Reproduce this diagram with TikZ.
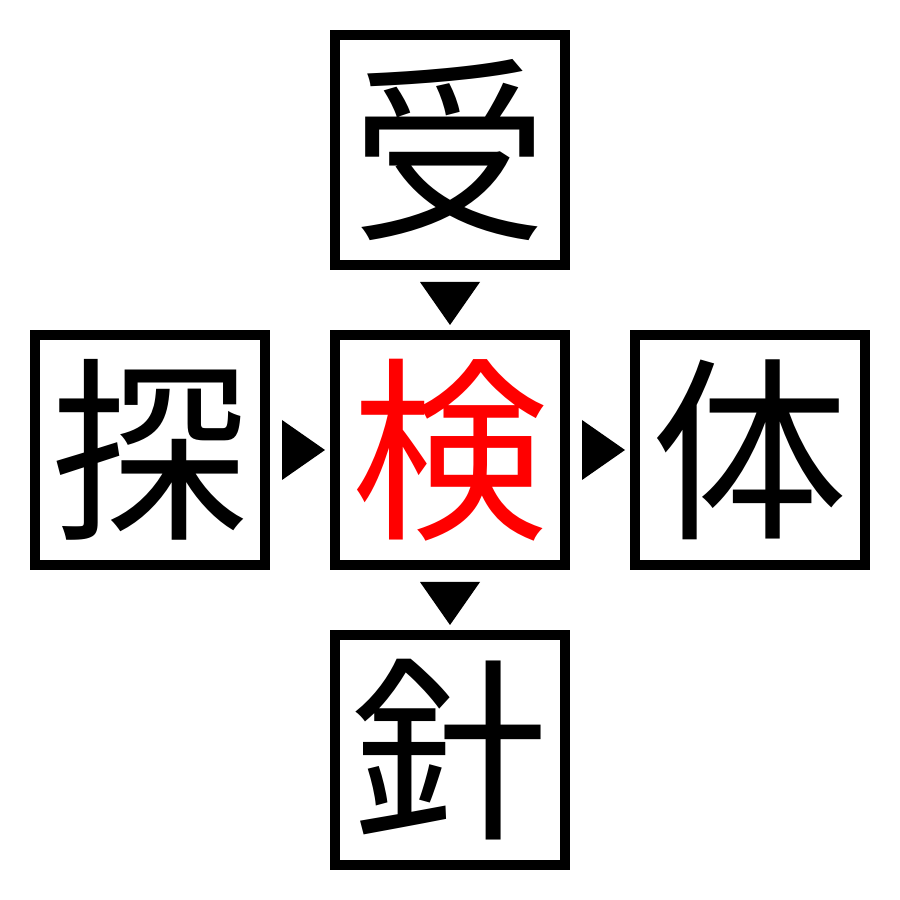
\documentclass[tikz,border=0pt]{standalone}
\usepackage{fontspec}
\newfontfamily\cjk{Noto Sans CJK JP}
\usetikzlibrary{positioning,calc}
\tikzset{
  kanji/.style={draw,line width=1mm,minimum size=2.3cm,inner sep=0pt,
    font=\cjk\fontsize{56}{56}\selectfont},
  tri/.style={fill=black}
}
\begin{document}
\begin{tikzpicture}[node distance=0.6cm]
        \useasboundingbox (0,0) rectangle (9,9);
        \node[kanji,text=red] (ken) at (4.5,4.5) {検};
        \node[kanji,above=of ken] (ju) {受};
        \node[kanji,left=of ken] (tan) {探};
        \node[kanji,right=of ken] (tai) {体};
        \node[kanji,below=of ken] (shin) {針};
        % triangles in the gaps
        \fill[tri] ($(tan.east)!0.5!(ken.west)$) ++(-0.18,0.3) -- ++(0.43,-0.3) -- ++(-0.43,-0.3) -- cycle;
        \fill[tri] ($(ken.east)!0.5!(tai.west)$) ++(-0.18,0.3) -- ++(0.43,-0.3) -- ++(-0.43,-0.3) -- cycle;
        \fill[tri] ($(ju.south)!0.5!(ken.north)$) ++(-0.3,0.18) -- ++(0.3,-0.43) -- ++(0.3,0.43) -- cycle;
        \fill[tri] ($(ken.south)!0.5!(shin.north)$) ++(-0.3,0.18) -- ++(0.3,-0.43) -- ++(0.3,0.43) -- cycle;
    \end{tikzpicture}
\end{document}
